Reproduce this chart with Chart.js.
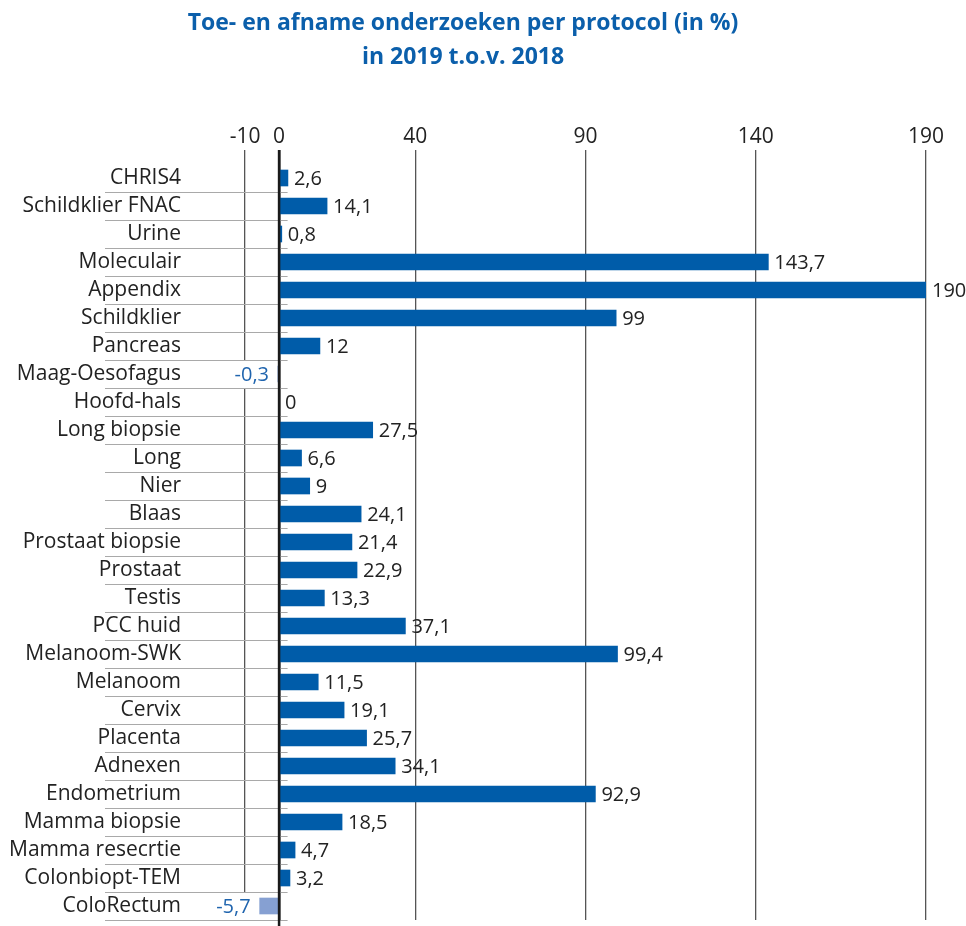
<!DOCTYPE html>
<html lang="nl">
<head>
  <meta charset="utf-8">
  <title>Toe- en afname onderzoeken per protocol</title>
  <style>
    body {
      margin: 0;
      background: #fff;
    }
    #chart {
      display: block;
    }
  </style>
</head>
<body>
  <canvas id="chart" width="966" height="926"></canvas>

  <script src="https://cdn.jsdelivr.net/npm/chart.js@4.4.1/dist/chart.umd.min.js"></script>
  <script>
    // protocollen en procentuele verandering 2019 t.o.v. 2018
    var protocols = [
      'CHRIS4', 'Schildklier FNAC', 'Urine', 'Moleculair', 'Appendix', 'Schildklier',
      'Pancreas', 'Maag-Oesofagus', 'Hoofd-hals', 'Long biopsie', 'Long', 'Nier',
      'Blaas', 'Prostaat biopsie', 'Prostaat', 'Testis', 'PCC huid', 'Melanoom-SWK',
      'Melanoom', 'Cervix', 'Placenta', 'Adnexen', 'Endometrium', 'Mamma biopsie',
      'Mamma resecrtie', 'Colonbiopt-TEM', 'ColoRectum'
    ];
    var change = [
      2.6, 14.1, 0.8, 143.7, 190, 99,
      12, -0.3, 0, 27.5, 6.6, 9,
      24.1, 21.4, 22.9, 13.3, 37.1, 99.4,
      11.5, 19.1, 25.7, 34.1, 92.9, 18.5,
      4.7, 3.2, -5.7
    ];
    var axisTicks = [-10, 0, 40, 90, 140, 190];

    var FONT = '"Open Sans", "Liberation Sans", sans-serif';
    var BLUE = '#005ca9';
    var LIGHT_BLUE = '#86a0d2';
    var TEXT = '#222222';

    function nl(v) {
      return String(v).replace('.', ',');
    }

    // grijze lijntjes onder elke categorie, links van de nullijn
    var rowLines = {
      id: 'rowLines',
      beforeDatasetsDraw: function (chart) {
        var ctx = chart.ctx;
        var x = chart.scales.x;
        var y = chart.scales.y;
        var right = x.getPixelForValue(2.5);
        ctx.save();
        ctx.strokeStyle = '#a9a9a9';
        ctx.lineWidth = 1;
        for (var i = 0; i < protocols.length; i++) {
          var yy = Math.round(y.getPixelForValue(i + 0.5)) + 0.5;
          ctx.beginPath();
          ctx.moveTo(105, yy);
          ctx.lineTo(right, yy);
          ctx.stroke();
        }
        ctx.restore();
      }
    };

    // waardes naast de balken + nullijn bovenop de balken
    var valueLabels = {
      id: 'valueLabels',
      afterDatasetsDraw: function (chart) {
        var ctx = chart.ctx;
        var x = chart.scales.x;
        var area = chart.chartArea;
        var zero = x.getPixelForValue(0);
        ctx.save();
        ctx.strokeStyle = '#1a1a1a';
        ctx.lineWidth = 2.5;
        ctx.beginPath();
        ctx.moveTo(zero, area.top - 14);
        ctx.lineTo(zero, chart.height);
        ctx.stroke();

        ctx.font = '20px ' + FONT;
        ctx.textBaseline = 'middle';
        chart.getDatasetMeta(0).data.forEach(function (bar, i) {
          var v = change[i];
          var txt = nl(v);
          if (v < 0) {
            var w = ctx.measureText(txt).width;
            var r = bar.x - 9;
            ctx.fillStyle = '#fff';
            ctx.fillRect(r - w - 3, bar.y - 13, w + 6, 27);
            ctx.fillStyle = '#1f64ae';
            ctx.textAlign = 'right';
            ctx.fillText(txt, r, bar.y + 1);
          } else {
            ctx.fillStyle = TEXT;
            ctx.textAlign = 'left';
            ctx.fillText(txt, Math.max(bar.x, zero) + 6, bar.y + 1);
          }
        });
        ctx.restore();
      }
    };

    var ctx = document.getElementById('chart').getContext('2d');
    new Chart(ctx, {
      type: 'bar',
      data: {
        labels: protocols,
        datasets: [{
          data: change,
          backgroundColor: change.map(function (v) { return v < 0 ? LIGHT_BLUE : BLUE; }),
          borderWidth: 0,
          barThickness: 16
        }]
      },
      options: {
        indexAxis: 'y',
        responsive: false,
        animation: false,
        layout: {
          padding: { left: 0, right: 40, top: 4, bottom: 6 }
        },
        plugins: {
          legend: { display: false },
          tooltip: { enabled: false },
          title: {
            display: true,
            text: ['Toe- en afname onderzoeken per protocol (in %)', 'in 2019 t.o.v. 2018'],
            color: '#0b5fab',
            font: { family: FONT, size: 23, weight: 'bold', lineHeight: 1.5 },
            padding: { top: 2, bottom: 39 }
          }
        },
        scales: {
          x: {
            position: 'top',
            min: -15,
            max: 190,
            afterBuildTicks: function (scale) {
              scale.ticks = axisTicks.map(function (v) { return { value: v }; });
            },
            afterFit: function (scale) {
              scale.height = 50;
            },
            border: { display: false },
            grid: {
              color: function (c) { return c.tick && c.tick.value === 0 ? '#1a1a1a' : '#555555'; },
              lineWidth: function (c) { return c.tick && c.tick.value === 0 ? 2.5 : 1.3; },
              tickLength: 14
            },
            ticks: {
              color: TEXT,
              padding: 0,
              maxRotation: 0,
              font: { family: FONT, size: 21 },
              callback: function (v) { return nl(v); }
            }
          },
          y: {
            afterFit: function (scale) {
              // vaste breedte voor de labelkolom, geen extra ruimte boven/onder
              scale.width = 228;
              scale.paddingTop = 0;
              scale.paddingBottom = 0;
            },
            border: { display: false },
            grid: { display: false, drawTicks: false },
            ticks: {
              color: TEXT,
              padding: 47,
              autoSkip: false,
              font: { family: FONT, size: 21 }
            }
          }
        }
      },
      plugins: [rowLines, valueLabels]
    });
  </script>
</body>
</html>
